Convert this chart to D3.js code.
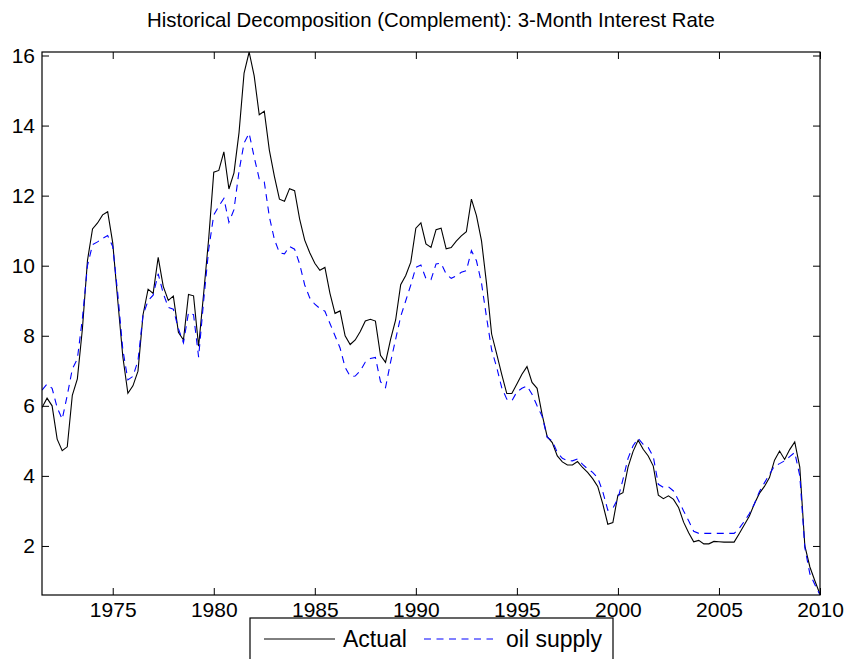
<!DOCTYPE html>
<html>
<head>
<meta charset="utf-8">
<script src="https://cdn.jsdelivr.net/npm/d3@7"></script>
<style>
  body { margin: 0; background: #fff; }
  svg { display: block; font-family: "Liberation Sans", Arial, sans-serif; }
</style>
</head>
<body>
<div id="chart"></div>
<script>
// quarterly series, first point 1971 Q3 (1971.5), last 2010.0
const startYear = 1971.5;

const actual = [
  5.95, 6.22,
  6.0, 5.05, 4.72, 4.83,
  6.3, 6.77, 8.2, 10.15,
  11.05, 11.22, 11.45, 11.54,
  10.65, 9.0, 7.4, 6.36,
  6.57, 6.99, 8.6, 9.33,
  9.21, 10.24, 9.41, 9.01,
  9.13, 8.1, 7.88, 9.18,
  9.14, 7.7, 9.21, 10.78,
  12.67, 12.72, 13.25, 12.19,
  12.65, 13.8, 15.5, 16.1,
  15.42, 14.31, 14.41, 13.3,
  12.55, 11.9, 11.84, 12.2,
  12.14, 11.33, 10.73, 10.37,
  10.07, 9.87, 9.95, 9.21,
  8.64, 8.71, 8.0, 7.75,
  7.88, 8.12, 8.42, 8.47,
  8.42, 7.44, 7.24, 7.9,
  8.45, 9.46, 9.72, 10.1,
  11.07, 11.22, 10.62, 10.52,
  11.03, 11.07, 10.48, 10.52,
  10.7, 10.85, 10.97, 11.9,
  11.43, 10.71, 9.48, 8.05,
  7.48, 6.9, 6.35, 6.35,
  6.62, 6.9, 7.12, 6.67,
  6.5, 5.75, 5.12, 4.95,
  4.57, 4.4, 4.31, 4.31,
  4.41, 4.24, 4.1, 3.92,
  3.7, 3.2, 2.62, 2.67,
  3.45, 3.52, 4.25, 4.7,
  5.02, 4.76, 4.57, 4.28,
  3.45, 3.35, 3.43, 3.33,
  3.1, 2.68, 2.38, 2.12,
  2.16, 2.06, 2.06, 2.13,
  2.12, 2.11, 2.11, 2.11,
  2.35, 2.6, 2.85, 3.2,
  3.5, 3.7, 3.95, 4.45,
  4.71, 4.47, 4.75, 4.97,
  4.25, 2.0, 1.4, 1.0,
  0.62
];

const oilSupply = [
  6.45, 6.62,
  6.5, 5.95, 5.62, 6.3,
  7.05, 7.34, 8.5, 10.0,
  10.6, 10.68, 10.78, 10.86,
  10.55, 9.2, 7.6, 6.74,
  6.84, 7.29, 8.6, 9.0,
  9.16, 9.77, 9.21, 8.81,
  8.76, 8.2, 7.8, 8.66,
  8.6, 7.39, 9.0, 10.47,
  11.45, 11.7, 11.92, 11.24,
  11.6, 12.7, 13.5, 13.78,
  13.1, 12.48, 12.39, 11.4,
  10.75, 10.37, 10.34, 10.55,
  10.47, 10.05, 9.45, 9.08,
  8.9, 8.78, 8.7, 8.35,
  8.0, 7.65, 7.1, 6.84,
  6.85, 7.0, 7.25, 7.35,
  7.38, 6.69, 6.52, 7.25,
  7.9, 8.55, 9.0, 9.45,
  9.95, 10.02, 9.63, 9.6,
  10.05, 10.07, 9.76, 9.64,
  9.71, 9.81, 9.86, 10.43,
  10.14, 9.5, 8.52, 7.6,
  7.1, 6.52, 6.19, 6.14,
  6.4, 6.5, 6.57, 6.33,
  6.0, 5.7, 5.1, 5.0,
  4.67, 4.5, 4.44, 4.43,
  4.48, 4.33, 4.2, 4.1,
  3.95, 3.55, 3.02, 3.08,
  3.35, 3.9, 4.5, 4.86,
  5.07, 4.9, 4.81, 4.55,
  3.76, 3.67, 3.69, 3.57,
  3.3, 3.0, 2.72, 2.42,
  2.36, 2.36, 2.36, 2.36,
  2.36, 2.36, 2.36, 2.36,
  2.5, 2.7, 2.92, 3.2,
  3.55, 3.8, 4.05, 4.28,
  4.35, 4.43, 4.55, 4.67,
  4.0, 1.95, 1.2, 0.89,
  0.6
];

const xTicks = [1975, 1980, 1985, 1990, 1995, 2000, 2005, 2010];
const yTicks = [2, 4, 6, 8, 10, 12, 14, 16];
const seriesNames = ["Actual", "oil supply"];

const width = 848;
const height = 659;
const margin = { top: 52, right: 28, bottom: 64, left: 42 };
const chartWidth = width - margin.left - margin.right;
const chartHeight = height - margin.top - margin.bottom;

const dates = actual.map((d, i) => startYear + i / 4);

const svg = d3
  .select("#chart")
  .append("svg")
  .attr("width", width)
  .attr("height", height);

const x = d3
  .scaleLinear()
  .domain([startYear, dates[dates.length - 1]])
  .range([0, chartWidth]);

const y = d3
  .scaleLinear()
  .domain(d3.extent(actual.concat(oilSupply)))
  .range([chartHeight, 0]);

const chartG = svg
  .append("g")
  .attr("transform", `translate(${margin.left},${margin.top})`);

chartG
  .append("clipPath")
  .attr("id", "plot-clip")
  .append("rect")
  .attr("width", chartWidth)
  .attr("height", chartHeight);

// axes, ticks point inwards like matlab
const tickLen = 7;
const fontSize = "21px";
const dashes = "7 5.5";

const bottomAxis = chartG
  .append("g")
  .attr("transform", `translate(0,${chartHeight})`)
  .call(d3.axisBottom(x).tickValues(xTicks).tickFormat(d3.format("d"))
    .tickSizeInner(-tickLen).tickSizeOuter(0).tickPadding(7));

const topAxis = chartG
  .append("g")
  .call(d3.axisTop(x).tickValues(xTicks).tickFormat("")
    .tickSizeInner(-tickLen).tickSizeOuter(0));

const leftAxis = chartG
  .append("g")
  .call(d3.axisLeft(y).tickValues(yTicks).tickFormat(d3.format("d"))
    .tickSizeInner(-tickLen).tickSizeOuter(0).tickPadding(7));

const rightAxis = chartG
  .append("g")
  .attr("transform", `translate(${chartWidth},0)`)
  .call(d3.axisRight(y).tickValues(yTicks).tickFormat("")
    .tickSizeInner(-tickLen).tickSizeOuter(0));

[bottomAxis, topAxis, leftAxis, rightAxis].forEach((g) => {
  g.select(".domain").remove();
  g.selectAll("line").attr("stroke", "#000");
  g.selectAll("text")
    .attr("fill", "#000")
    .style("font-size", fontSize)
    .style("font-family", "'Liberation Sans', Arial, sans-serif");
});

const line = (values) =>
  d3
    .line()
    .x((d, i) => x(dates[i]))
    .y((d) => y(d))(values);

const plotG = chartG.append("g").attr("clip-path", "url(#plot-clip)");

plotG
  .append("path")
  .attr("d", line(actual))
  .attr("fill", "none")
  .attr("stroke", "#000")
  .attr("stroke-width", 1.1);

plotG
  .append("path")
  .attr("d", line(oilSupply))
  .attr("fill", "none")
  .attr("stroke", "#0000ff")
  .attr("stroke-width", 1.1)
  .attr("stroke-dasharray", dashes);

// frame
chartG
  .append("rect")
  .attr("width", chartWidth)
  .attr("height", chartHeight)
  .attr("fill", "none")
  .attr("stroke", "#000")
  .attr("stroke-width", 1.2);

// title
svg
  .append("text")
  .attr("x", margin.left + chartWidth / 2)
  .attr("y", 27)
  .attr("text-anchor", "middle")
  .style("font-size", "20.4px")
  .text("Historical Decomposition (Complement): 3-Month Interest Rate");

// legend, sits over the tick labels at the bottom
const legend = svg.append("g").attr("transform", "translate(250,618)");

legend
  .append("rect")
  .attr("width", 363)
  .attr("height", 50)
  .attr("fill", "#fff")
  .attr("stroke", "#000")
  .attr("stroke-width", 1.2);

legend
  .append("line")
  .attr("x1", 14).attr("x2", 85)
  .attr("y1", 21).attr("y2", 21)
  .attr("stroke", "#000");

legend
  .append("text")
  .attr("x", 93)
  .attr("y", 29)
  .style("font-size", "23px")
  .text(seriesNames[0]);

legend
  .append("line")
  .attr("x1", 174).attr("x2", 243)
  .attr("y1", 21).attr("y2", 21)
  .attr("stroke", "#0000ff")
  .attr("stroke-dasharray", dashes);

legend
  .append("text")
  .attr("x", 256)
  .attr("y", 29)
  .style("font-size", "23px")
  .text(seriesNames[1]);
</script>
</body>
</html>
